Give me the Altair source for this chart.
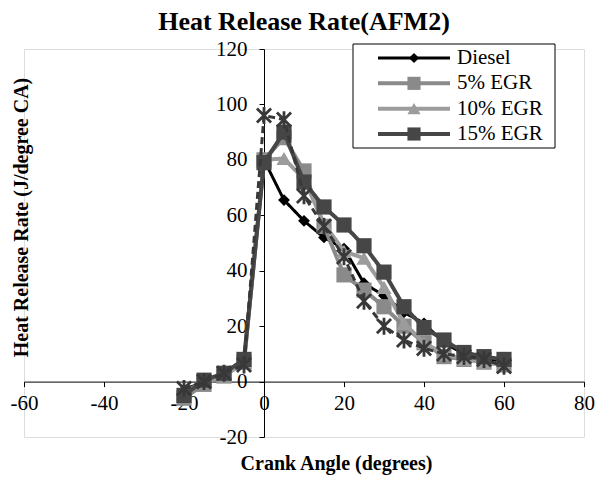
import altair as alt
import pandas as pd

# ---- data ----
crank_angle = [-20, -15, -10, -5, 0, 5, 10, 15, 20, 25, 30, 35, 40, 45, 50, 55, 60]
diesel = [-3, 0, 2, 7, 80, 65.5, 58, 52, 48, 35.5, 31, 25, 21, 14, 10, 8, 7]
egr5 = [-6, -1, 2, 7, 80, 88, 76, 56, 38.5, 33, 27, 20, 14, 9, 8, 7, 6]
egr10 = [-4, 0, 2, 7, 80, 80.5, 73, 57, 47, 44.5, 34, 21, 14, 10, 8, 7, 6]
egr15 = [-5, 0.5, 3, 8, 79, 90, 72, 63, 56.5, 49, 39.5, 27, 19.5, 15, 10.5, 9, 8]
egr20 = [-2.5, 0, 3, 6, 96, 94.5, 67, 56, 45, 29, 20, 15, 12, 10, 9, 8, 5.5]

series_names = ["Diesel", "5% EGR", "10% EGR", "15% EGR", "20% EGR"]
legend_names = ["Diesel", "5% EGR", "10% EGR", "15% EGR"]
x_ticks = [-60, -40, -20, 0, 20, 40, 60, 80]
y_ticks = [-20, 0, 20, 40, 60, 80, 100, 120]

# ---- styles ----
FONT = "Liberation Serif"
STAR = "M-1,-1L1,1M-1,1L1,-1M0,-1.2L0,1.2"
style = {
    "Diesel": dict(color="#000000", shape="diamond", size=140, width=3, dash=[1, 0], filled=True),
    "5% EGR": dict(color="#8a8a8a", shape="square", size=230, width=4, dash=[1, 0], filled=True),
    "10% EGR": dict(color="#9c9c9c", shape="triangle-up", size=230, width=4, dash=[1, 0], filled=True),
    "15% EGR": dict(color="#464646", shape="square", size=230, width=4, dash=[1, 0], filled=True),
    "20% EGR": dict(color="#383838", shape=STAR, size=200, width=3, dash=[7, 4], filled=False),
}

rows = []
for name, vals in zip(series_names, [diesel, egr5, egr10, egr15, egr20]):
    for a, v in zip(crank_angle, vals):
        rows.append({"series": name, "angle": a, "hrr": v})
df = pd.DataFrame(rows)

x_scale = alt.Scale(domain=[-60, 80], nice=False, zero=False)
y_scale = alt.Scale(domain=[-20, 120], nice=False, zero=False)

x_axis = alt.Axis(values=x_ticks, offset=-55.4, grid=False, domainColor="black", tickColor="black",
                  tickSize=5, labelFont=FONT, labelFontSize=21, labelColor="black", labelPadding=6,
                  labelFlush=False, labelOverlap=False, labelExpr="'' + datum.value",
                  title="Crank Angle (degrees)", titleFont=FONT, titleFontSize=20, titleFontWeight="bold",
                  titleColor="black", titleX=312, titleY=82, titleAlign="center", titleBaseline="middle")
y_axis = alt.Axis(values=y_ticks, offset=-240, grid=False, domainColor="black", tickColor="black",
                  tickSize=5, labelFont=FONT, labelFontSize=21, labelColor="black", labelPadding=12,
                  labelFlush=False, labelOverlap=False, labelExpr="'' + datum.value",
                  title="Heat Release Rate (J/degree CA)", titleFont=FONT, titleFontSize=20,
                  titleFontWeight="bold", titleColor="black", titleX=-243, titleY=168,
                  titleAlign="center", titleBaseline="middle", titleAngle=270)

x_enc = alt.X("angle:Q", scale=x_scale, axis=x_axis)
y_enc = alt.Y("hrr:Q", scale=y_scale, axis=y_axis)

layers = []
for name in series_names:
    s = style[name]
    base = alt.Chart(df).transform_filter(alt.datum.series == name)
    line = base.mark_line(color=s["color"], strokeWidth=s["width"], strokeDash=s["dash"]).encode(
        x=x_enc, y=y_enc, order="angle:Q")
    if s["filled"]:
        pts = base.mark_point(shape=s["shape"], filled=True, fill=s["color"], color=s["color"],
                              size=s["size"], opacity=1).encode(x=x_enc, y=y_enc)
    else:
        pts = base.mark_point(shape=s["shape"], filled=False, stroke=s["color"], strokeWidth=2.8,
                              size=s["size"], opacity=1).encode(x=x_enc, y=y_enc)
    layers += [line, pts]
main = alt.layer(*layers)

# ---- legend (box, line with marker, label) ----
leg_df = pd.DataFrame({"series": legend_names})
leg_y = alt.Y("series:N", scale=alt.Scale(type="point", domain=legend_names, range=[9, 85], padding=0),
              axis=None)
box = alt.Chart(pd.DataFrame({"b": [0]})).mark_rect(fill="white", stroke="black", strokeWidth=1).encode(
    x=alt.value(329), x2=alt.value(531), y=alt.value(-5), y2=alt.value(99))
leg_layers = [box]
for name in legend_names:
    s = style[name]
    b = alt.Chart(leg_df).transform_filter(alt.datum.series == name)
    leg_layers.append(b.mark_rule(color=s["color"], strokeWidth=s["width"]).encode(
        x=alt.value(354), x2=alt.value(426), y=leg_y))
    leg_layers.append(b.mark_point(shape=s["shape"], filled=True, fill=s["color"], color=s["color"],
                                   size=s["size"] * 0.75, opacity=1).encode(x=alt.value(390), y=leg_y))
    leg_layers.append(b.mark_text(align="left", baseline="middle", font=FONT, fontSize=21,
                                  color="black").encode(x=alt.value(433), y=leg_y, text="series:N"))
legend = alt.layer(*leg_layers)

chart = alt.layer(main, legend).resolve_scale(y="independent").properties(
    width=560, height=388,
    padding={"left": 16, "top": 41, "right": 16, "bottom": 41},
    autosize=alt.AutoSizeParams(type="none"),
    title=alt.TitleParams("Heat Release Rate(AFM2)", font=FONT, fontSize=26, fontWeight="bold",
                          color="black", anchor="middle", offset=3),
).configure_view(stroke=None).configure(background="white")

chart.save("out.html", embed_options={"renderer": "svg", "actions": False})
